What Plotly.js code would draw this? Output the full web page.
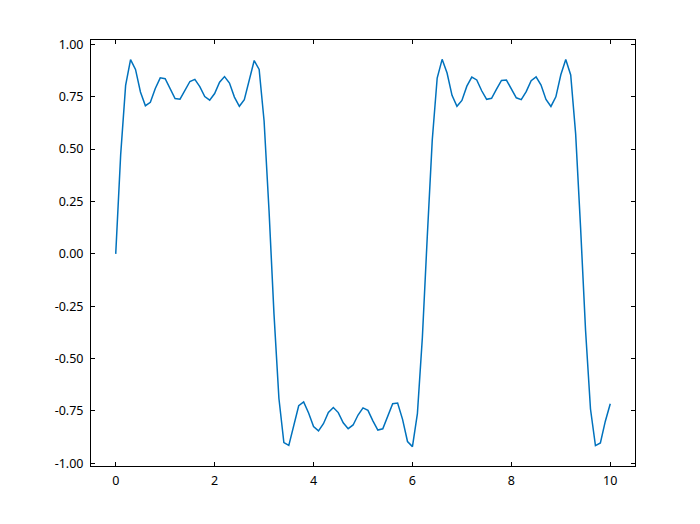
<!DOCTYPE html>
<html>
<head>
<meta charset="utf-8">
<script src="https://cdn.plot.ly/plotly-3.0.1.min.js"></script>
<style>html,body{margin:0;padding:0;background:#fff;}#chart{width:700px;height:524px;}</style>
</head>
<body>
<div id="chart"></div>
<script>
var xValues = [0, 0.1, 0.2, 0.3, 0.4, 0.5, 0.6, 0.7, 0.8, 0.9,
  1.0, 1.1, 1.2, 1.3, 1.4, 1.5, 1.6, 1.7, 1.8, 1.9,
  2.0, 2.1, 2.2, 2.3, 2.4, 2.5, 2.6, 2.7, 2.8, 2.9,
  3.0, 3.1, 3.2, 3.3, 3.4, 3.5, 3.6, 3.7, 3.8, 3.9,
  4.0, 4.1, 4.2, 4.3, 4.4, 4.5, 4.6, 4.7, 4.8, 4.9,
  5.0, 5.1, 5.2, 5.3, 5.4, 5.5, 5.6, 5.7, 5.8, 5.9,
  6.0, 6.1, 6.2, 6.3, 6.4, 6.5, 6.6, 6.7, 6.8, 6.9,
  7.0, 7.1, 7.2, 7.3, 7.4, 7.5, 7.6, 7.7, 7.8, 7.9,
  8.0, 8.1, 8.2, 8.3, 8.4, 8.5, 8.6, 8.7, 8.8, 8.9,
  9.0, 9.1, 9.2, 9.3, 9.4, 9.5, 9.6, 9.7, 9.8, 9.9, 10.0];

var yValues = [0, 0.4733, 0.8042, 0.9269, 0.8806, 0.7729, 0.7071, 0.7233, 0.7892, 0.8404,
  0.8364, 0.7878, 0.7417, 0.7383, 0.7777, 0.8229, 0.8328, 0.7985, 0.7510, 0.7340,
  0.7654, 0.8193, 0.8461, 0.8156, 0.7483, 0.7044, 0.7363, 0.8364, 0.9229, 0.8805,
  0.6343, 0.2060, -0.2866, -0.6904, -0.9009, -0.9143, -0.8176, -0.7250, -0.7074, -0.7598,
  -0.8246, -0.8453, -0.8108, -0.7574, -0.7334, -0.7579, -0.8064, -0.8345, -0.8169, -0.7694,
  -0.7353, -0.7472, -0.7973, -0.8411, -0.8352, -0.7774, -0.7155, -0.7125, -0.7903, -0.8960,
  -0.9204, -0.7626, -0.4004, 0.0839, 0.5419, 0.8395, 0.9285, 0.8635, 0.7568, 0.7042,
  0.7326, 0.8005, 0.8440, 0.8303, 0.7785, 0.7376, 0.7426, 0.7862, 0.8278, 0.8297,
  0.7902, 0.7450, 0.7361, 0.7742, 0.8270, 0.8451, 0.8056, 0.7374, 0.7037, 0.7498,
  0.8550, 0.9277, 0.8542, 0.5728, 0.1235, -0.3646, -0.7408, -0.9154, -0.9025, -0.7989, -0.7160];

var xTickVals = [0, 2, 4, 6, 8, 10];
var xTickText = ["0", "2", "4", "6", "8", "10"];
var yTickVals = [-1.0, -0.75, -0.5, -0.25, 0, 0.25, 0.5, 0.75, 1.0];
var yTickText = ["-1.00", "-0.75", "-0.50", "-0.25", "0.00", "0.25", "0.50", "0.75", "1.00"];

function padRange(arr) {
  var lo = Math.min.apply(null, arr), hi = Math.max.apply(null, arr);
  var m = (hi - lo) * 0.05;
  return [lo - m, hi + m];
}

var fontSpec = {family: "Noto Sans, DejaVu Sans, sans-serif", size: 12.5, color: "#000"};

var axisCommon = {
  showgrid: false, zeroline: false,
  showline: true, linecolor: "#000", linewidth: 1, mirror: "ticks",
  ticks: "inside", ticklen: 4, tickwidth: 1, tickcolor: "#000",
  tickfont: fontSpec, tickmode: "array"
};

var layout = {
  width: 700, height: 524,
  margin: {l: 91, r: 65, t: 40, b: 58, pad: 0},
  paper_bgcolor: "#fff", plot_bgcolor: "#fff",
  showlegend: false,
  font: fontSpec,
  xaxis: Object.assign({}, axisCommon, {
    range: padRange(xValues), tickvals: xTickVals, ticktext: xTickText, ticklabelstandoff: 3
  }),
  yaxis: Object.assign({}, axisCommon, {
    range: padRange(yValues), tickvals: yTickVals, ticktext: yTickText, ticklabelstandoff: 4
  })
};

Plotly.newPlot("chart", [{
  x: xValues, y: yValues, type: "scatter", mode: "lines",
  line: {color: "#0072BD", width: 1.5}, hoverinfo: "none"
}], layout, {staticPlot: true, displayModeBar: false});
</script>
</body>
</html>
